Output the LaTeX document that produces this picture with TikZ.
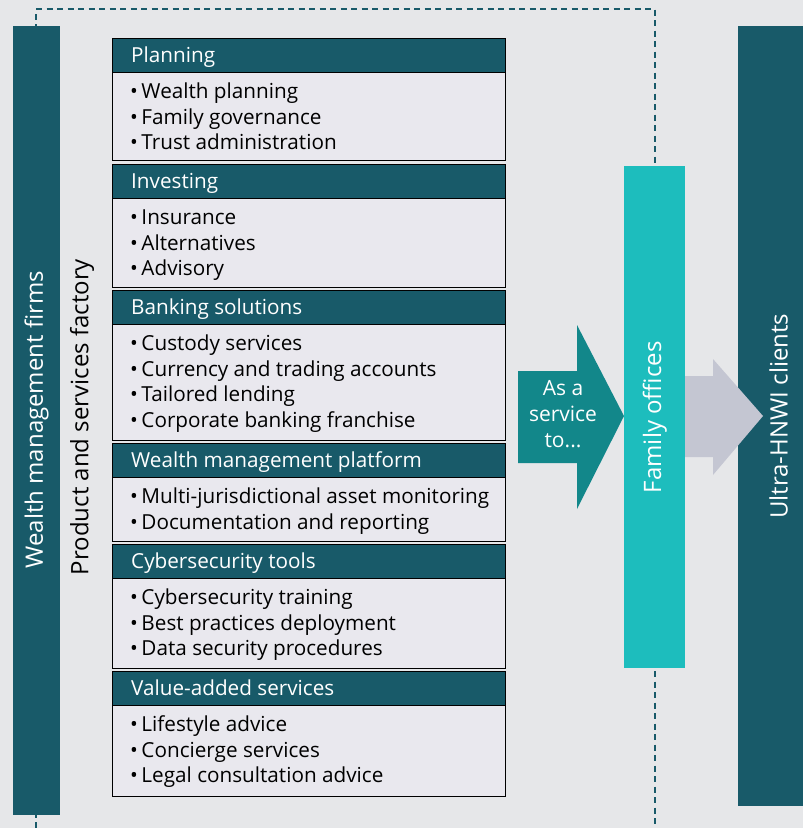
\documentclass[tikz,border=0pt]{standalone}
\usepackage{fontspec}
\setmainfont{Open Sans}
\usetikzlibrary{calc,positioning}
\definecolor{darkteal}{HTML}{185A69}
\definecolor{midteal}{HTML}{12878A}
\definecolor{lightteal}{HTML}{1DBDBD}
\definecolor{bggray}{HTML}{E6E7E9}
\definecolor{boxgray}{HTML}{E9E8EE}
\definecolor{arrowgray}{HTML}{C4C6D2}
\newlength{\px}

\begin{document}
\begin{tikzpicture}
    [   secbox/.style={draw=black, line width=1.2\px, fill=boxgray, anchor=north west,
            inner sep=0pt, minimum width=393\px},
        hdrbox/.style={draw=black, line width=1.2\px, fill=darkteal, anchor=north west,
            inner sep=0pt, minimum width=393\px, minimum height=34\px},
        hdrtext/.style={anchor=base west, text=white, inner sep=0pt,
            font=\fontsize{20.7}{24}\selectfont},
        itemtext/.style={anchor=base west, inner sep=0pt,
            font=\fontsize{20.7}{24}\selectfont},
        bar/.style={anchor=north west, inner sep=0pt},
        bartext/.style={rotate=90, text=white, inner sep=0pt,
            font=\fontsize{24}{28}\selectfont}
    ]
    \setlength{\px}{1pt}
    % Background
    \fill[bggray] (0\px,0\px) rectangle (803\px,-828\px);
    \useasboundingbox (0\px,0\px) rectangle (803\px,-828\px);
    % Dashed frame
    \draw[darkteal, line width=1.2\px, dash pattern=on 6\px off 4.5\px]
        (36\px,-828\px) -- (36\px,-9\px) -- (655\px,-9\px) -- (655\px,-828\px);
    % Wealth management firms
    \node[bar, fill=darkteal, minimum width=47\px, minimum height=789\px] (wmbar) at (13\px,-26\px) {};
    \node[bartext] (wmlabel) at ([yshift=1\px]wmbar.center) {Wealth management firms};
    % Product and services factory
    \node[rotate=90, inner sep=0pt, font=\fontsize{24}{28}\selectfont] (factory) at (82\px,-417\px)
        {Product and services factory};
    % Planning
    \node[secbox, minimum height=122\px] (planbox) at (112\px,-38\px) {};
    \node[hdrbox] (planhdr) at (planbox.north west) {};
    \node[hdrtext] (plantitle) at ([xshift=19\px, yshift=-7\px]planhdr.west) {Planning};
    \foreach \txt [count=\i] in {Wealth planning, Family governance, Trust administration}
        \node[itemtext] (plan-\i) at ([xshift=18\px, yshift={-25\px-(\i-1)*25.8\px}]planhdr.south west) {\textbullet\hspace{3.5\px}\txt};
    % Investing
    \node[secbox, minimum height=123\px] (investbox) at (112\px,-164\px) {};
    \node[hdrbox] (investhdr) at (investbox.north west) {};
    \node[hdrtext] (investtitle) at ([xshift=19\px, yshift=-7\px]investhdr.west) {Investing};
    \foreach \txt [count=\i] in {Insurance, Alternatives, Advisory}
        \node[itemtext] (invest-\i) at ([xshift=18\px, yshift={-25\px-(\i-1)*25.8\px}]investhdr.south west) {\textbullet\hspace{3.5\px}\txt};
    % Banking solutions
    \node[secbox, minimum height=150\px] (bankbox) at (112\px,-290\px) {};
    \node[hdrbox] (bankhdr) at (bankbox.north west) {};
    \node[hdrtext] (banktitle) at ([xshift=19\px, yshift=-7\px]bankhdr.west) {Banking solutions};
    \foreach \txt [count=\i] in {Custody services, Currency and trading accounts, Tailored lending, Corporate banking franchise}
        \node[itemtext] (bank-\i) at ([xshift=18\px, yshift={-25\px-(\i-1)*25.8\px}]bankhdr.south west) {\textbullet\hspace{3.5\px}\txt};
    % Wealth management platform
    \node[secbox, minimum height=98\px] (platbox) at (112\px,-443\px) {};
    \node[hdrbox] (plathdr) at (platbox.north west) {};
    \node[hdrtext] (plattitle) at ([xshift=19\px, yshift=-7\px]plathdr.west) {Wealth management platform};
    \foreach \txt [count=\i] in {Multi-jurisdictional asset monitoring, Documentation and reporting}
        \node[itemtext] (plat-\i) at ([xshift=18\px, yshift={-25\px-(\i-1)*25.8\px}]plathdr.south west) {\textbullet\hspace{3.5\px}\txt};
    % Cybersecurity tools
    \node[secbox, minimum height=124\px] (cyberbox) at (112\px,-544\px) {};
    \node[hdrbox] (cyberhdr) at (cyberbox.north west) {};
    \node[hdrtext] (cybertitle) at ([xshift=19\px, yshift=-7\px]cyberhdr.west) {Cybersecurity tools};
    \foreach \txt [count=\i] in {Cybersecurity training, Best practices deployment, Data security procedures}
        \node[itemtext] (cyber-\i) at ([xshift=18\px, yshift={-25\px-(\i-1)*25.8\px}]cyberhdr.south west) {\textbullet\hspace{3.5\px}\txt};
    % Value-added services
    \node[secbox, minimum height=125\px] (valuebox) at (112\px,-671\px) {};
    \node[hdrbox] (valuehdr) at (valuebox.north west) {};
    \node[hdrtext] (valuetitle) at ([xshift=19\px, yshift=-7\px]valuehdr.west) {Value-added services};
    \foreach \txt [count=\i] in {Lifestyle advice, Concierge services, Legal consultation advice}
        \node[itemtext] (value-\i) at ([xshift=18\px, yshift={-25\px-(\i-1)*25.8\px}]valuehdr.south west) {\textbullet\hspace{3.5\px}\txt};
    % As a service to...
    \fill[midteal] (518\px,-371\px) -- (577\px,-371\px) -- (577\px,-325\px) -- (624\px,-416\px)
        -- (577\px,-509\px) -- (577\px,-463\px) -- (518\px,-463\px) -- cycle;
    \node[text=white, align=center, inner sep=0pt, font=\fontsize{21}{26}\selectfont] (service) at (563\px,-414\px)
        {As a\\service\\to...};
    % Family offices
    \node[bar, fill=lightteal, minimum width=61\px, minimum height=502\px] (fobar) at (624\px,-166\px) {};
    \node[bartext] (folabel) at (fobar.center) {Family offices};
    % Ultra-HNWI clients
    \node[bar, fill=darkteal, minimum width=65\px, minimum height=780\px] (clbar) at (738\px,-26\px) {};
    \node[bartext] (cllabel) at ([xshift=8\px]clbar.center) {Ultra-HNWI clients};
    \fill[arrowgray] (685\px,-376\px) -- (713\px,-376\px) -- (713\px,-359\px) -- (763\px,-416\px)
        -- (713\px,-475\px) -- (713\px,-457\px) -- (685\px,-457\px) -- cycle;
\end{tikzpicture}
\end{document}
